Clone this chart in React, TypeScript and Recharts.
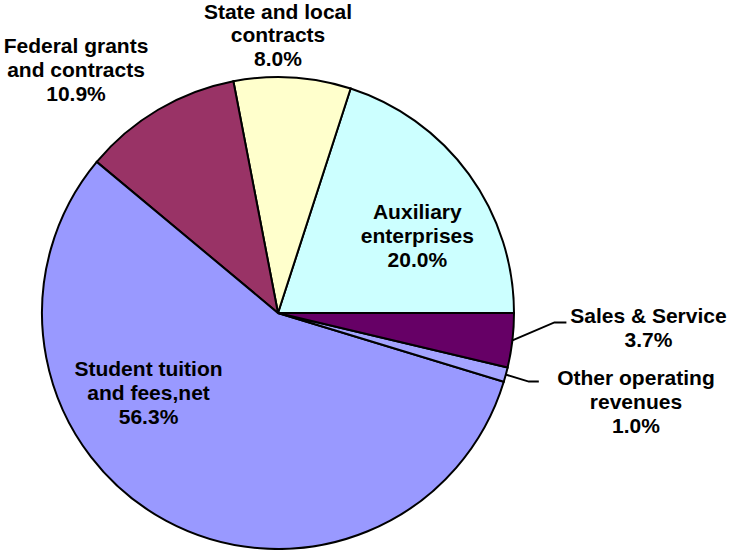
import { PieChart, Pie, Cell } from "recharts";

const CATEGORIES = [
  "Auxiliary enterprises",
  "State and local contracts",
  "Federal grants and contracts",
  "Student tuition and fees,net",
  "Other operating revenues",
  "Sales & Service",
];
const SHARES = [20.0, 8.0, 10.9, 56.3, 1.0, 3.7];
const LABEL_LINES = [
  ["Auxiliary", "enterprises"],
  ["State and local", "contracts"],
  ["Federal grants", "and contracts"],
  ["Student tuition", "and fees,net"],
  ["Other operating", "revenues"],
  ["Sales & Service"],
];

const COLORS = ["#CCFFFF", "#FFFFCC", "#993366", "#9999FF", "#A4A4FF", "#660066"];

// label placement: [angle deg (ccw from east), radius as share of outerRadius]
const LABEL_AT: Record<string, [number, number]> = {
  "Auxiliary enterprises": [29, 0.675],
  "State and local contracts": [90, 1.178],
  "Federal grants and contracts": [129.7, 1.34],
  "Student tuition and fees,net": [211.6, 0.644],
  "Other operating revenues": [-13.96, 1.563],
  "Sales & Service": [-2.3, 1.571],
};
// leader lines: elbow offset from slice edge, then horizontal run
const LEADERS: Record<string, [number, number, number]> = {
  "Sales & Service": [42, -18, 12],
  "Other operating revenues": [23, 7, 10],
};

const data = CATEGORIES.map((name, i) => ({
  name,
  value: SHARES[i],
  lines: LABEL_LINES[i],
}));

const RAD = Math.PI / 180;
const LINE_H = 24;

function renderLabel(props: any) {
  const { cx, cy, outerRadius, midAngle, payload } = props;
  const name = payload.name;
  const [ang, rf] = LABEL_AT[name];
  const x = cx + outerRadius * rf * Math.cos(ang * RAD);
  const y = cy - outerRadius * rf * Math.sin(ang * RAD);
  const lines = [...payload.lines, `${payload.value.toFixed(1)}%`];
  const top = y - ((lines.length - 1) * LINE_H) / 2;
  const leader = LEADERS[name];
  let path = null;
  if (leader) {
    const ex = cx + outerRadius * Math.cos(midAngle * RAD);
    const ey = cy - outerRadius * Math.sin(midAngle * RAD);
    const bx = ex + leader[0];
    const by = ey + leader[1];
    path = (
      <polyline
        points={`${ex},${ey} ${bx},${by} ${bx + leader[2]},${by}`}
        fill="none"
        stroke="#000"
        strokeWidth={2}
      />
    );
  }
  return (
    <g key={name}>
      {path}
      <text
        x={x}
        y={top}
        textAnchor="middle"
        fontFamily="'Liberation Sans', Arial, sans-serif"
        fontWeight="bold"
        fontSize={21}
        fill="#000"
      >
        {lines.map((l, i) => (
          <tspan key={i} x={x} y={top + i * LINE_H} dominantBaseline="central">
            {l}
          </tspan>
        ))}
      </text>
    </g>
  );
}

export default function App() {
  return (
    <div style={{ width: 729, height: 550, background: "#fff", position: "absolute", left: 0, top: 0 }}>
      <PieChart width={729} height={550} margin={{ top: 0, right: 0, bottom: 0, left: 0 }}>
        <Pie
          data={data}
          dataKey="value"
          nameKey="name"
          cx={278}
          cy={313}
          outerRadius={236}
          startAngle={0}
          endAngle={360}
          stroke="#000"
          strokeWidth={2}
          label={renderLabel}
          labelLine={false}
          isAnimationActive={false}
        >
          {data.map((d, i) => (
            <Cell key={d.name} fill={COLORS[i]} />
          ))}
        </Pie>
      </PieChart>
    </div>
  );
}
